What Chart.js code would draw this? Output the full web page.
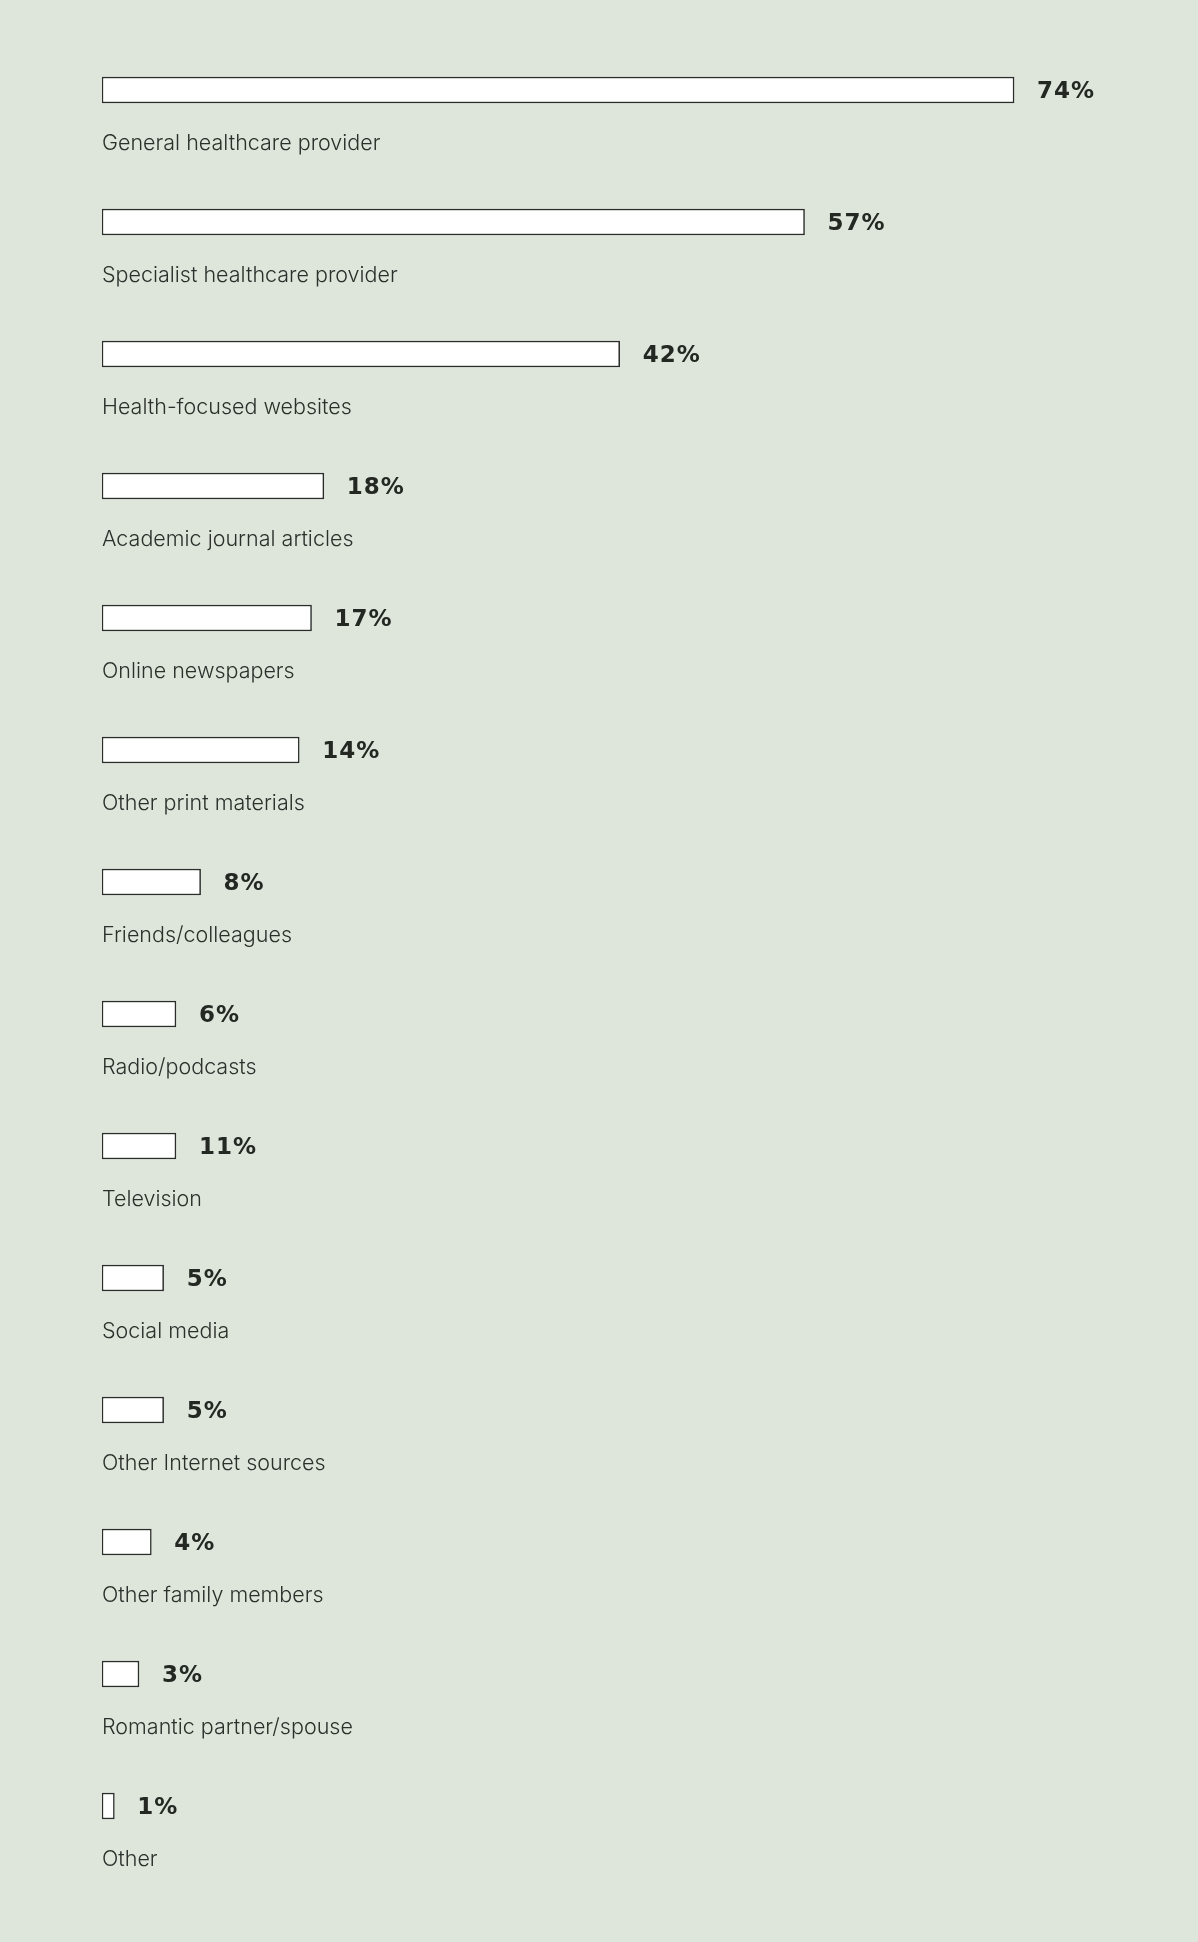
<!DOCTYPE html>
<html>
<head>
<meta charset="utf-8">
<script src="https://cdn.jsdelivr.net/npm/chart.js@4.4.1/dist/chart.umd.min.js"></script>
<style>
  html, body { margin: 0; padding: 0; background: #dee6dc; }
  #wrap { width: 1198px; height: 1942px; }
</style>
</head>
<body>
<div id="wrap"><canvas id="myChart" width="1198" height="1942"></canvas></div>
<script>
// Sources of health information
const categories = [
    'General healthcare provider',
    'Specialist healthcare provider',
    'Health-focused websites',
    'Academic journal articles',
    'Online newspapers',
    'Other print materials',
    'Friends/colleagues',
    'Radio/podcasts',
    'Television',
    'Social media',
    'Other Internet sources',
    'Other family members',
    'Romantic partner/spouse',
    'Other'
];
// bar lengths as drawn in the picture
const barValues = [74, 57, 42, 18, 17, 16, 8, 6, 6, 5, 5, 4, 3, 1];
// printed labels next to the bars
const percentLabels = ['74%', '57%', '42%', '18%', '17%', '14%', '8%', '6%', '11%', '5%', '5%', '4%', '3%', '1%'];

const textColor = '#232823';

// draws the value next to each bar and the category below it
const labelPlugin = {
    id: 'rowLabels',
    afterDatasetsDraw(chart) {
        const ctx = chart.ctx;
        const meta = chart.getDatasetMeta(0);
        ctx.save();
        ctx.textBaseline = 'middle';
        ctx.textAlign = 'left';
        meta.data.forEach((bar, i) => {
            ctx.fillStyle = textColor;
            ctx.font = 'bold 23px "DejaVu Sans"';
            ctx.letterSpacing = '1px';
            ctx.fillText(percentLabels[i], bar.x + 23, bar.y + 2);
            ctx.letterSpacing = '0px';
            ctx.fillStyle = '#2b302b';
            ctx.font = '350 21.5px Inter';
            ctx.fillText(categories[i], chart.chartArea.left, bar.y + 54);
        });
        ctx.restore();
    }
};

const data = {
    labels: categories,
    datasets: [{
        label: 'share',
        data: barValues,
        backgroundColor: '#ffffff',
        borderColor: '#2a2d2a',
        borderWidth: 1.5,
        borderSkipped: false,
        barThickness: 26
    }]
};

const config = {
    type: 'bar',
    data: data,
    options: {
        indexAxis: 'y',
        responsive: false,
        animation: false,
        layout: {
            padding: { left: 102, right: 110, top: 24, bottom: 70 }
        },
        scales: {
            x: { display: false, min: 0, max: 80 },
            y: { display: false }
        },
        plugins: {
            legend: { display: false },
            tooltip: { enabled: false }
        }
    },
    plugins: [labelPlugin]
};

const chart = new Chart(document.getElementById('myChart'), config);
</script>
</body>
</html>
